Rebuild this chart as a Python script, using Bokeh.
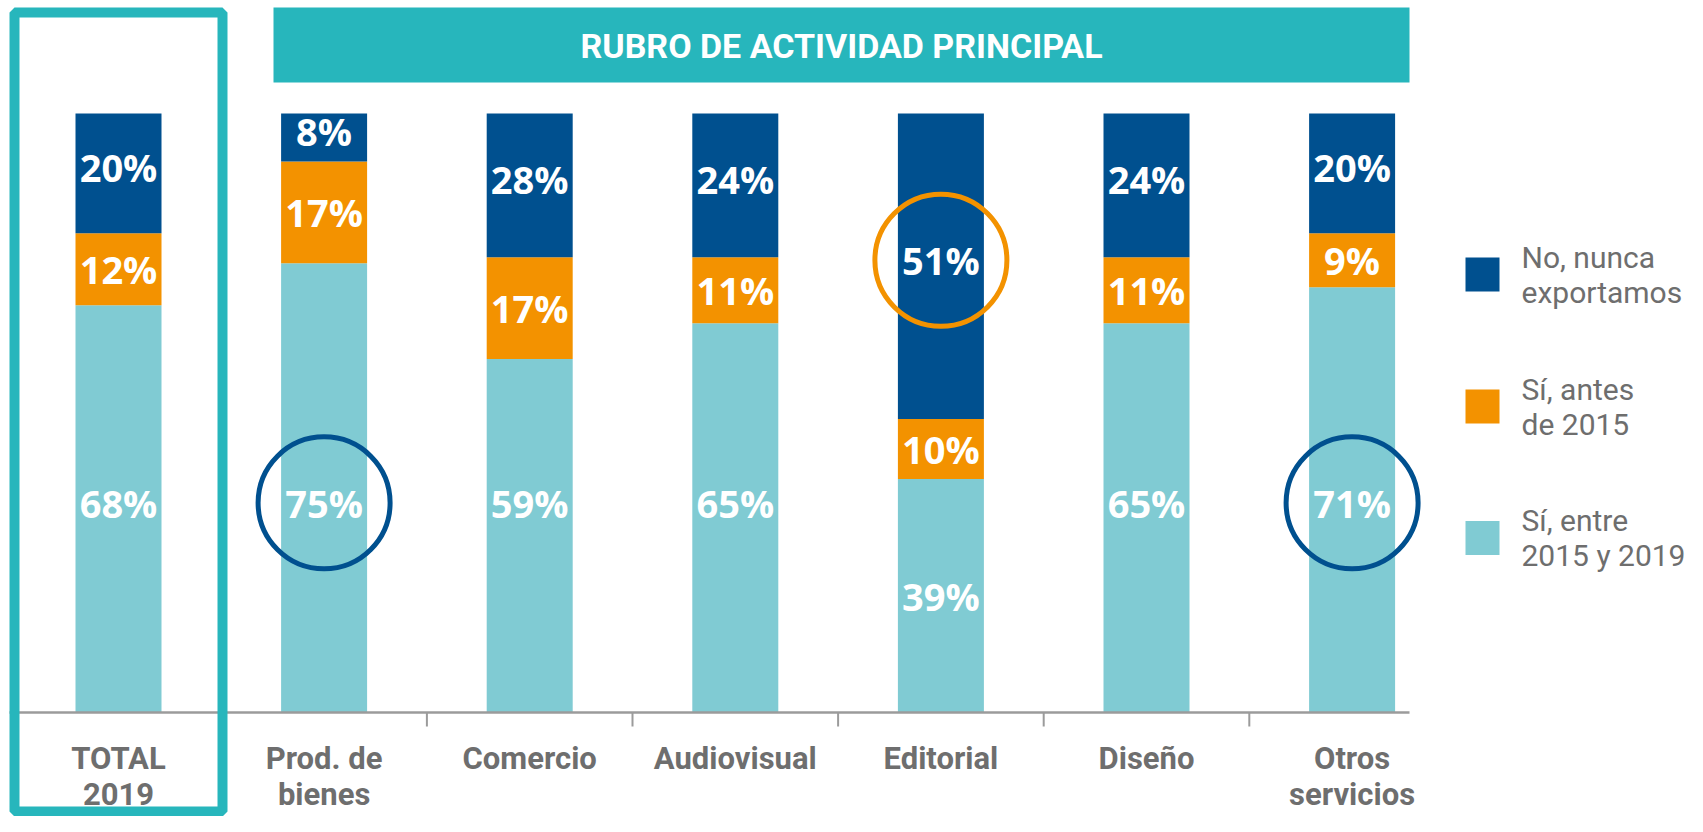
from bokeh.plotting import figure
from bokeh.models import ColumnDataSource, Range1d
from bokeh.core.properties import value
from bokeh.embed import file_html
from bokeh.resources import INLINE

# ---------------- data ----------------
categories = ["TOTAL\n2019", "Prod. de\nbienes", "Comercio", "Audiovisual",
              "Editorial", "Diseño", "Otros\nservicios"]
si_2015_2019 = [68, 75, 59, 65, 39, 65, 71]     # Sí, entre 2015 y 2019
si_antes_2015 = [12, 17, 17, 11, 10, 11, 9]     # Sí, antes de 2015
no_nunca = [20, 8, 28, 24, 51, 24, 20]          # No, nunca exportamos
series_names = ["No, nunca\nexportamos", "Sí, antes\nde 2015", "Sí, entre\n2015 y 2019"]
header_title = "RUBRO DE ACTIVIDAD PRINCIPAL"
highlight_cat = ["Prod. de\nbienes", "Editorial", "Otros\nservicios"]
highlight_seg = ["light", "dark", "light"]

# ---------------- style ----------------
DARK = "#00508f"
ORANGE = "#f39200"
LIGHT = "#80cbd3"
TEAL = "#27b6bc"
GREY = "#6e6e6e"
AXIS = "#9b9b9b"

W, H = 1687, 816
PX_X, X0 = 205.6, 118.0     # pixels per category, pixel of first category centre
PX_Y, Y0 = 5.99, 712.0      # pixels per percent, pixel of baseline


def X(px):
    return (px - X0) / PX_X


def Y(py):
    return (Y0 - py) / PX_Y


p = figure(width=W, height=H,
           x_range=Range1d(X(0), X(W)), y_range=Range1d(Y(H), Y(0)),
           output_backend="svg", toolbar_location=None, min_border=0,
           x_axis_location=None, y_axis_location=None)
p.grid.visible = False
p.outline_line_color = None
p.background_fill_color = "white"
p.border_fill_color = "white"

idx = list(range(len(categories)))
orange_top = [a + b for a, b in zip(si_2015_2019, si_antes_2015)]
src = ColumnDataSource(dict(x=idx, light=si_2015_2019, otop=orange_top,
                            full=[100] * len(idx)))

BW = 86 / PX_X
p.vbar(x="x", bottom=0, top="light", width=BW, source=src, fill_color=LIGHT, line_color=None)
p.vbar(x="x", bottom="light", top="otop", width=BW, source=src, fill_color=ORANGE, line_color=None)
p.vbar(x="x", bottom="otop", top="full", width=BW, source=src, fill_color=DARK, line_color=None)

# label positions
light_y = [35 if v >= 50 else v / 2 for v in si_2015_2019]
orange_y = [l + o / 2 for l, o in zip(si_2015_2019, si_antes_2015)]
dark_y = [(t + 100) / 2 + 1 for t in orange_top]

lx = idx * 3
ly = light_y + orange_y + dark_y
lt = [f"{v}%" for v in si_2015_2019 + si_antes_2015 + no_nunca]
p.text(x=lx, y=ly, text=lt, text_font=value("Open Sans"), text_font_style="bold",
       text_font_size="38px", text_color="white", text_align="center",
       text_baseline="middle")

# highlight circles
cx, cy, cc = [], [], []
for cat, seg in zip(highlight_cat, highlight_seg):
    i = categories.index(cat)
    cx.append(i)
    cy.append(light_y[i] if seg == "light" else dark_y[i])
    cc.append(DARK if seg == "light" else ORANGE)
p.scatter(x=cx, y=cy, marker="circle", size=132, fill_color=None,
          line_color=cc, line_width=5)

# axis line and ticks
p.segment(x0=[X(9)], y0=[0], x1=[X(1409)], y1=[0], line_color=AXIS, line_width=2.5)
tick_x = [i + 0.5 for i in idx[1:-1]]
p.segment(x0=tick_x, y0=[0] * len(tick_x), x1=tick_x, y1=[Y(726)] * len(tick_x),
          line_color=AXIS, line_width=2)

# category labels
p.text(x=idx, y=[Y(739)] * len(idx), text=categories, text_font=value("Roboto"),
       text_font_style="bold", text_font_size="31px", text_color=GREY,
       text_align="center", text_baseline="top", text_line_height=0.99)

# header band
p.quad(left=[X(273)], right=[X(1409)], bottom=[Y(82)], top=[Y(7)],
       fill_color=TEAL, line_color=None)
p.text(x=[X(841)], y=[Y(45)], text=[header_title], text_font=value("Roboto"),
       text_font_style="bold", text_font_size="34px", text_color="white",
       text_align="center", text_baseline="middle")

# TOTAL frame
p.quad(left=[X(14)], right=[X(222)], bottom=[Y(811)], top=[Y(12)],
       fill_color=None, line_color=TEAL, line_width=10)

# legend
leg_y = [Y(274), Y(406), Y(537.5)]
p.scatter(x=[X(1482)] * 3, y=leg_y, marker="square", size=34,
          fill_color=[DARK, ORANGE, LIGHT], line_color=None)
p.text(x=[X(1521)] * 3, y=leg_y, text=series_names, text_font=value("Roboto"),
       text_font_size="30px", text_color=GREY, text_align="left",
       text_baseline="middle", text_line_height=1.0)

open("out.html", "w").write(file_html(p, INLINE))
